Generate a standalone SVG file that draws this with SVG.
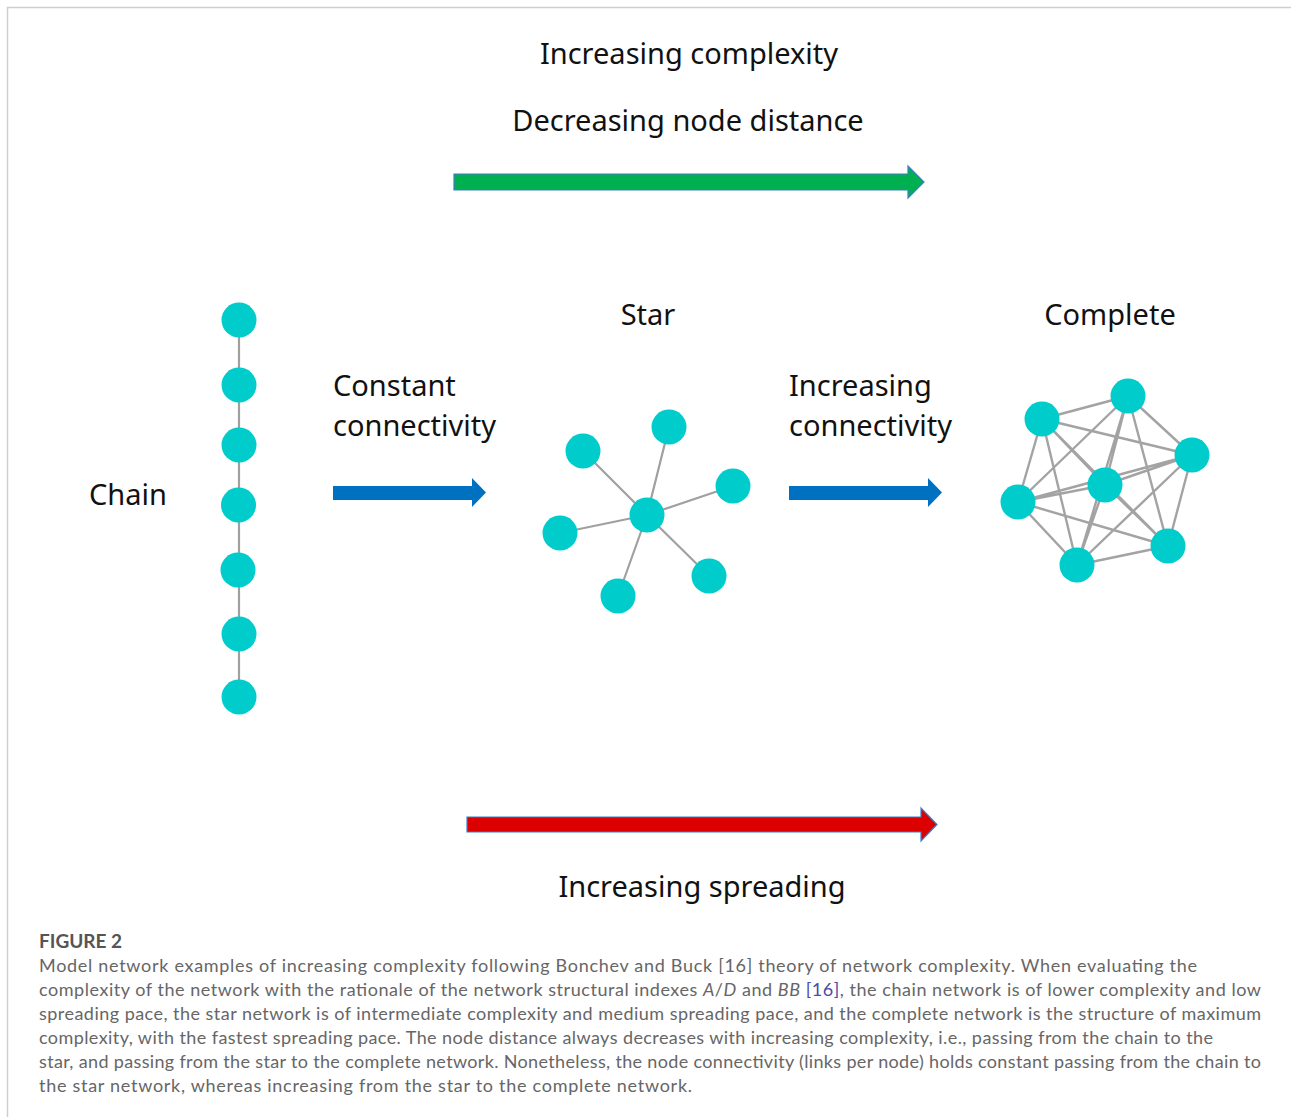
<svg xmlns="http://www.w3.org/2000/svg" width="1291" height="1117" viewBox="0 0 1291 1117">
<style>
.lbl{font-family:"Noto Sans","Open Sans","DejaVu Sans",sans-serif;font-size:29px;fill:#111}
.node{fill:#00cccc}
.e{stroke:#a0a0a0;stroke-width:2.2;fill:none}
.ec{stroke:#999;stroke-width:2.4;stroke-opacity:0.9;fill:none}
.cap{font-family:Lato,"Open Sans","Liberation Sans",sans-serif;font-size:18px;fill:#666}
.fig{font-family:Lato,"Open Sans","Liberation Sans",sans-serif;font-size:19px;font-weight:bold;fill:#555}
.arrowline{stroke:#3d7fc4;stroke-width:1.2}
</style>
<rect width="1291" height="1117" fill="#fff"/>
<path d="M1291 7.5H7.5V1117" fill="none" stroke="#cfcfcf" stroke-width="1.5"/>

<g id="labels">
<text class="lbl" x="689" y="64" text-anchor="middle">Increasing complexity</text>
<text class="lbl" x="688" y="131" text-anchor="middle">Decreasing node distance</text>
<text class="lbl" x="648" y="325" text-anchor="middle">Star</text>
<text class="lbl" x="1110" y="325" text-anchor="middle">Complete</text>
<text class="lbl" x="333" y="396">Constant</text>
<text class="lbl" x="333" y="436">connectivity</text>
<text class="lbl" x="789" y="396">Increasing</text>
<text class="lbl" x="789" y="436">connectivity</text>
<text class="lbl" x="89" y="505">Chain</text>
<text class="lbl" x="702" y="897" text-anchor="middle">Increasing spreading</text>
</g>

<g id="arrows">
<polygon id="arrow-green" class="arrowline" fill="#00b050" points="454,174 908,174 908,166 924,182 908,198 908,190 454,190"/>
<polygon id="arrow-red" class="arrowline" fill="#dd0000" points="467,817 921,817 921,808 937,824.5 921,841 921,832 467,832"/>
<polygon id="arrow-blue-1" fill="#0070c0" points="333,486 472,486 472,478 486,492.5 472,507 472,500 333,500"/>
<polygon id="arrow-blue-2" fill="#0070c0" points="789,486 928,486 928,478 942,492.5 928,507 928,500 789,500"/>
</g>

<g id="connectors">
<g id="chain-edges" class="e">
<path d="M239 320V697"/>
</g>
<g id="star-edges" class="e">
<path d="M647 515L583 451M647 515L669 427M647 515L733 486M647 515L560 533M647 515L618 596M647 515L709 576"/>
</g>
<g id="complete-edges" class="ec">
<path d="M1042 419L1128 396M1042 419L1192 455M1042 419L1105 485M1042 419L1018 502M1042 419L1077 565M1042 419L1168 546
M1128 396L1192 455M1128 396L1105 485M1128 396L1018 502M1128 396L1077 565M1128 396L1168 546
M1192 455L1105 485M1192 455L1018 502M1192 455L1077 565M1192 455L1168 546
M1105 485L1018 502M1105 485L1077 565M1105 485L1168 546
M1018 502L1077 565M1018 502L1168 546
M1077 565L1168 546"/>
</g>
</g>

<g id="chain">
<circle id="c1" class="node" cx="239" cy="320" r="17.5"/>
<circle id="c2" class="node" cx="239" cy="385" r="17.5"/>
<circle id="c3" class="node" cx="239" cy="445" r="17.5"/>
<circle id="c4" class="node" cx="238.5" cy="505" r="17.5"/>
<circle id="c5" class="node" cx="238" cy="570" r="17.5"/>
<circle id="c6" class="node" cx="239" cy="634" r="17.5"/>
<circle id="c7" class="node" cx="239" cy="697" r="17.5"/>
</g>

<g id="star">
<circle id="s0" class="node" cx="647" cy="515" r="17.5"/>
<circle id="s1" class="node" cx="583" cy="451" r="17.5"/>
<circle id="s2" class="node" cx="669" cy="427" r="17.5"/>
<circle id="s3" class="node" cx="733" cy="486" r="17.5"/>
<circle id="s4" class="node" cx="560" cy="533" r="17.5"/>
<circle id="s5" class="node" cx="618" cy="596" r="17.5"/>
<circle id="s6" class="node" cx="709" cy="576" r="17.5"/>
</g>

<g id="complete">
<circle id="k1" class="node" cx="1042" cy="419" r="17.5"/>
<circle id="k2" class="node" cx="1128" cy="396" r="17.5"/>
<circle id="k3" class="node" cx="1192" cy="455" r="17.5"/>
<circle id="k4" class="node" cx="1105" cy="485" r="17.5"/>
<circle id="k5" class="node" cx="1018" cy="502" r="17.5"/>
<circle id="k6" class="node" cx="1077" cy="565" r="17.5"/>
<circle id="k7" class="node" cx="1168" cy="546" r="17.5"/>
</g>

<g id="caption">
<text class="fig" x="39" y="948">FIGURE 2</text>
<text class="cap" x="39" y="972" textLength="1158" lengthAdjust="spacing">Model network examples of increasing complexity following Bonchev and Buck [16] theory of network complexity. When evaluating the</text>
<text class="cap" x="39" y="996" textLength="1222" lengthAdjust="spacing">complexity of the network with the rationale of the network structural indexes <tspan font-style="italic">A</tspan>/<tspan font-style="italic">D</tspan> and <tspan font-style="italic">BB</tspan> <tspan fill="#4b4ba8">[16]</tspan>, the chain network is of lower complexity and low</text>
<text class="cap" x="39" y="1020" textLength="1222" lengthAdjust="spacing">spreading pace, the star network is of intermediate complexity and medium spreading pace, and the complete network is the structure of maximum</text>
<text class="cap" x="39" y="1044" textLength="1174" lengthAdjust="spacing">complexity, with the fastest spreading pace. The node distance always decreases with increasing complexity, i.e., passing from the chain to the</text>
<text class="cap" x="39" y="1068" textLength="1222" lengthAdjust="spacing">star, and passing from the star to the complete network. Nonetheless, the node connectivity (links per node) holds constant passing from the chain to</text>
<text class="cap" x="39" y="1092" textLength="653" lengthAdjust="spacing">the star network, whereas increasing from the star to the complete network.</text>
</g>
</svg>
